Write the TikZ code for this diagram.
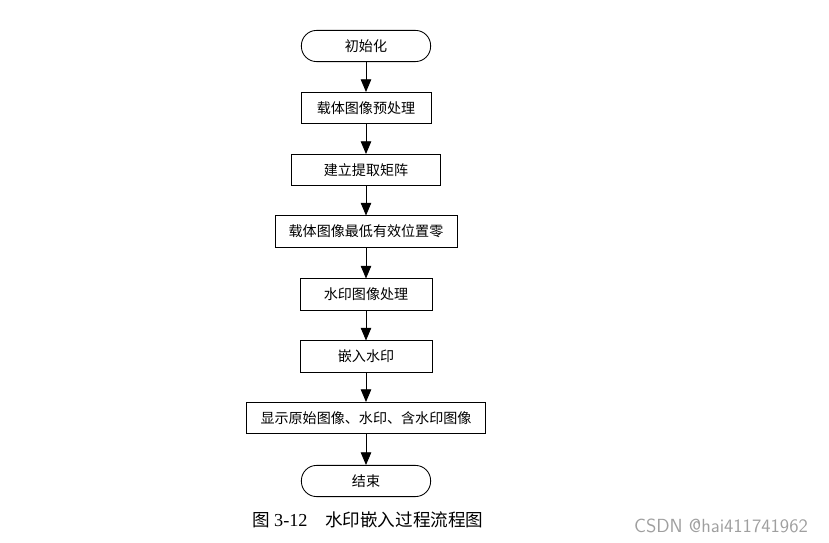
\documentclass[tikz,border=0pt]{standalone}
\usepackage{fontspec}
\newfontfamily\cjk{Noto Sans CJK SC}
\newfontfamily\numfont{Liberation Serif}
\usetikzlibrary{arrows.meta}
\begin{document}
\begin{tikzpicture}[x=0.025cm,y=-0.025cm,
  box/.style={draw,line width=0.6pt,inner sep=0pt,minimum height=0.78cm,font=\cjk\fontsize{10}{12}\selectfont},
  term/.style={box,rounded corners=0.38cm,minimum width=3.23cm},
  arr/.style={-{Triangle[length=9pt,width=7.5pt]},line width=0.6pt}]
\useasboundingbox (0,0) rectangle (829,543);
\node[term] (init) at (366,46) {初始化};
\node[box,minimum width=3.25cm] (pre) at (366,108) {载体图像预处理};
\node[box,minimum width=3.73cm] (mat) at (366,170) {建立提取矩阵};
\node[box,minimum width=4.55cm] (lsb) at (366,231.5) {载体图像最低有效位置零};
\node[box,minimum width=3.3cm] (wm) at (366,294.5) {水印图像处理};
\node[box,minimum width=3.3cm] (emb) at (366,356.5) {嵌入水印};
\node[box,minimum width=5.98cm] (show) at (366,418) {显示原始图像、水印、含水印图像};
\node[term] (stop) at (366,481) {结束};
\draw[arr] (init) -- (pre);
\draw[arr] (pre) -- (mat);
\draw[arr] (mat) -- (lsb);
\draw[arr] (lsb) -- (wm);
\draw[arr] (wm) -- (emb);
\draw[arr] (emb) -- (show);
\draw[arr] (show) -- (stop);
% caption
\node[font=\cjk\fontsize{12.5}{14}\selectfont] (cap) at (368,520) {图 {\numfont\fontsize{13}{14}\selectfont 3-12}\quad 水印嵌入过程流程图};
\node[font=\sffamily\fontsize{13.5}{15}\selectfont,text=gray!75] (mark) at (721,526) {CSDN @hai411741962};
\end{tikzpicture}
\end{document}
